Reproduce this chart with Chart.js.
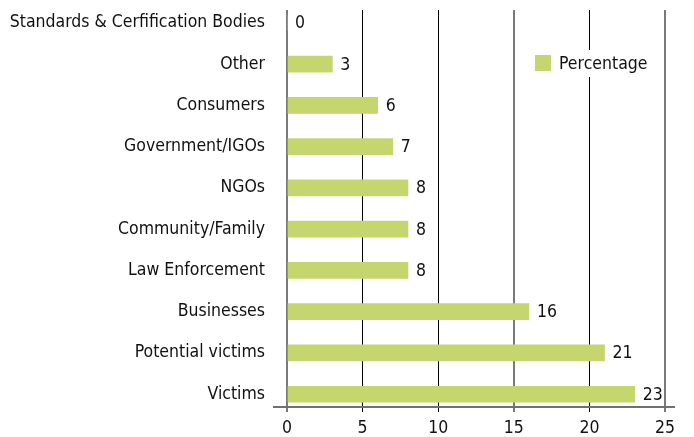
<!DOCTYPE html>
<html>
<head>
<meta charset="utf-8">
<script src="https://cdn.jsdelivr.net/npm/chart.js@4/dist/chart.umd.min.js"></script>
<style>
  html, body { margin: 0; padding: 0; background: #fff; }
  #wrap { width: 694px; height: 437px; }
</style>
</head>
<body>
<div id="wrap"><canvas id="chart"></canvas></div>
<script>
// données
const categories = ['Standards & Cerfification Bodies', 'Other', 'Consumers', 'Government/IGOs', 'NGOs',
    'Community/Family', 'Law Enforcement', 'Businesses', 'Potential victims', 'Victims'];
const percentages = [0, 3, 6, 7, 8, 8, 8, 16, 21, 23];
const xTicks = [0, 5, 10, 15, 20, 25];
const seriesName = 'Percentage';

const FONT = "'DejaVu Sans Condensed', 'Liberation Sans Narrow', sans-serif";
const SIZE = 17.5;
const BAR = '#c5d66e';

// axe horizontal qui dépasse un peu de la zone
const axisLine = {
    id: 'axisLine',
    afterDraw(chart) {
        const { ctx, chartArea } = chart;
        ctx.save();
        ctx.strokeStyle = '#707070';
        ctx.lineWidth = 2;
        ctx.beginPath();
        ctx.moveTo(chartArea.left - 14, chartArea.bottom);
        ctx.lineTo(chartArea.right + 10, chartArea.bottom);
        ctx.stroke();
        ctx.restore();
    }
};

// étiquettes de valeur à droite des barres
const valueLabels = {
    id: 'valueLabels',
    afterDatasetsDraw(chart) {
        const { ctx } = chart;
        const meta = chart.getDatasetMeta(0);
        ctx.save();
        ctx.font = SIZE + 'px ' + FONT;
        ctx.fillStyle = '#111';
        ctx.textAlign = 'left';
        ctx.textBaseline = 'middle';
        meta.data.forEach((bar, i) => {
            ctx.fillText(String(percentages[i]), bar.x + 8, bar.y + 1);
        });
        ctx.restore();
    }
};

// légende dans la zone du graphique
const insideLegend = {
    id: 'insideLegend',
    afterDatasetsDraw(chart) {
        const { ctx } = chart;
        ctx.save();
        ctx.fillStyle = '#fff';
        ctx.fillRect(527, 50, 128, 27);
        ctx.fillStyle = BAR;
        ctx.fillRect(535, 55, 16, 16);
        ctx.font = SIZE + 'px ' + FONT;
        ctx.fillStyle = '#111';
        ctx.textAlign = 'left';
        ctx.textBaseline = 'middle';
        ctx.fillText(seriesName, 559, 64);
        ctx.restore();
    }
};

const greyLine = v => v === 0 || v === 15 || v === 25;

new Chart(document.getElementById('chart'), {
    type: 'bar',
    data: {
        datasets: [{
            label: seriesName,
            data: percentages.map((v, i) => ({ x: v, y: i })),
            backgroundColor: BAR,
            borderWidth: 0,
            barThickness: 16
        }]
    },
    options: {
        indexAxis: 'y',
        responsive: true,
        maintainAspectRatio: false,
        animation: false,
        layout: { padding: { top: 10, right: 29, left: 0, bottom: 0 } },
        scales: {
            x: {
                type: 'linear',
                min: 0,
                max: 25,
                afterBuildTicks: s => { s.ticks = xTicks.map(v => ({ value: v })); },
                afterFit: s => { s.height = 30; },
                grid: {
                    color: c => greyLine(c.tick && c.tick.value) ? '#7a7a7a' : '#000',
                    lineWidth: c => greyLine(c.tick && c.tick.value) ? 2 : 1,
                    tickLength: 5
                },
                border: { display: false },
                ticks: {
                    font: { family: FONT, size: SIZE },
                    color: '#111',
                    padding: 6,
                    maxRotation: 0
                }
            },
            y: {
                type: 'linear',
                reverse: true,
                offset: false,
                min: -0.31,
                max: 9.31,
                afterBuildTicks: s => { s.ticks = categories.map((c, i) => ({ value: i })); },
                afterFit: s => { s.width = 287; s.paddingTop = 0; s.paddingBottom = 0; },
                grid: { display: false, drawTicks: false, offset: false },
                border: { display: false },
                ticks: {
                    autoSkip: false,
                    padding: 22,
                    font: { family: FONT, size: SIZE },
                    color: '#111',
                    callback: v => categories[v]
                }
            }
        },
        plugins: {
            legend: { display: false },
            tooltip: { enabled: false }
        }
    },
    plugins: [axisLine, valueLabels, insideLegend]
});
</script>
</body>
</html>
